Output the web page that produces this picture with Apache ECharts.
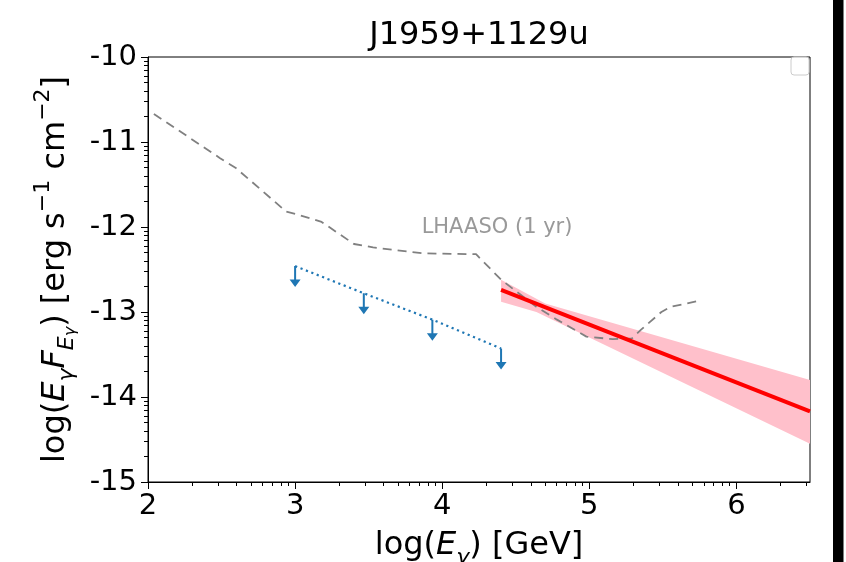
<!DOCTYPE html>
<html>
<head>
<meta charset="utf-8">
<script src="https://cdn.jsdelivr.net/npm/echarts@6/dist/echarts.min.js"></script>
<style>
html,body{margin:0;padding:0;background:#fff;}
#chart{width:846px;height:562px;}
</style>
</head>
<body>
<div id="chart"></div>
<script>
// ---- data ----
const titleText = 'J1959+1129u';
const xTicks = [2, 3, 4, 5, 6];
const yTicks = [-15, -14, -13, -12, -11, -10];

// LHAASO (1 yr) sensitivity curve
const lhaasoX = [2.04, 2.49, 2.60, 2.94, 3.01, 3.18, 3.40, 3.53, 3.87, 4.23, 4.40, 4.64, 4.78, 4.98, 5.16, 5.29, 5.35, 5.49, 5.55, 5.74];
const lhaasoY = [-10.67, -11.19, -11.31, -11.82, -11.85, -11.94, -12.20, -12.24, -12.31, -12.32, -12.62, -12.94, -13.09, -13.29, -13.32, -13.31, -13.21, -13.00, -12.94, -12.87];
const lhaasoLabel = 'LHAASO (1 yr)';
const lhaasoLabelPos = [3.86, -12.08];

// upper limits
const ulX = [3.0, 3.467, 3.933, 4.4];
const ulY = [-12.46, -12.78, -13.09, -13.43];

// power-law fit and its uncertainty band
const fitX = [4.4, 6.5];
const fitY = [-12.74, -14.17];
const bandUpperX = [4.4, 4.70, 6.5];
const bandUpperY = [-12.62, -12.90, -13.80];
const bandLowerX = [4.4, 4.64, 6.5];
const bandLowerY = [-12.88, -13.00, -14.55];

// log-style minor tick positions (k*10^n)
const minorK = [2, 3, 4, 5, 6, 7, 8, 9];
const xMinor = [];
for (let n = 2; n <= 6; n++) minorK.forEach(k => { const v = n + Math.log10(k); if (v < 6.5) xMinor.push(v); });
const yMinor = [];
for (let n = -15; n <= -11; n++) minorK.forEach(k => yMinor.push(n + Math.log10(k)));

// ---- build ----
const FONT = 'DejaVu Sans';
const zip = (a, b) => a.map((v, i) => [v, b[i]]);
const bandPoly = zip(bandUpperX, bandUpperY).concat(zip(bandLowerX, bandLowerY).reverse());

const chart = echarts.init(document.getElementById('chart'), null, {renderer: 'canvas'});

const LH = 46;
const baseRich = (fs) => ({
  n: {fontSize: fs, fontFamily: FONT, color: '#000', lineHeight: LH, verticalAlign: 'middle'},
  i: {fontSize: fs, fontFamily: FONT, fontStyle: 'italic', color: '#000', lineHeight: LH, verticalAlign: 'middle'},
  s: {fontSize: 22, fontFamily: FONT, fontStyle: 'italic', color: '#000', lineHeight: 22, verticalAlign: 'bottom'},
  ss: {fontSize: 16, fontFamily: FONT, fontStyle: 'italic', color: '#000', lineHeight: 12, verticalAlign: 'bottom'},
  sup: {fontSize: 22, fontFamily: FONT, color: '#000', lineHeight: 22, verticalAlign: 'top'}
});

const tickFs = 29;
const mainAxisCommon = {
  axisLine: {show: true, lineStyle: {color: '#000', width: 1}},
  axisTick: {show: true, inside: false, length: 7, lineStyle: {color: '#000', width: 1}},
  splitLine: {show: false},
  axisLabel: {show: true, color: '#000', fontSize: tickFs, fontFamily: FONT}
};
const minorAxisCommon = {
  axisLine: {show: false},
  axisLabel: {show: false},
  splitLine: {show: false}
};

const option = {
  animation: false,
  backgroundColor: '#fff',
  grid: {left: 148, top: 57, width: 662, height: 425, show: true, borderColor: '#000', borderWidth: 1,
    backgroundColor: 'transparent', containLabel: false, outerBoundsMode: 'none'},
  xAxis: [
    Object.assign({}, mainAxisCommon, {
      type: 'value', position: 'bottom', min: 2, max: 6.5, interval: 1,
      axisLabel: Object.assign({}, mainAxisCommon.axisLabel, {margin: 10, customValues: xTicks}),
      axisTick: Object.assign({}, mainAxisCommon.axisTick, {customValues: xTicks}),
      name: '{n|log(}{i|E}{s|γ}{n|) [GeV]}',
      nameLocation: 'middle', nameGap: 41,
      nameTextStyle: {fontFamily: FONT, fontSize: 32, color: '#000', rich: baseRich(32)}
    }),
    Object.assign({}, minorAxisCommon, {
      type: 'value', position: 'bottom', min: 2, max: 6.5, gridIndex: 0,
      axisTick: {show: true, inside: false, length: 4, lineStyle: {color: '#000', width: 1}, customValues: xMinor}
    })
  ],
  yAxis: [
    Object.assign({}, mainAxisCommon, {
      type: 'value', position: 'left', min: -15, max: -10, interval: 1,
      axisLabel: Object.assign({}, mainAxisCommon.axisLabel, {margin: 11, customValues: yTicks}),
      axisTick: Object.assign({}, mainAxisCommon.axisTick, {customValues: yTicks}),
      name: '{n|log(}{i|E}{s|γ}{i|F}{s|E}{ss|γ}{n|) [erg s}{sup|−1}{n| cm}{sup|−2}{n|]}',
      nameLocation: 'middle', nameRotate: 90, nameGap: 68,
      nameTextStyle: {fontFamily: FONT, fontSize: 32, color: '#000', rich: baseRich(32)}
    }),
    Object.assign({}, minorAxisCommon, {
      type: 'value', position: 'left', min: -15, max: -10, gridIndex: 0,
      axisTick: {show: true, inside: false, length: 4, lineStyle: {color: '#000', width: 1}, customValues: yMinor}
    })
  ],
  graphic: [
    {type: 'text', x: 479, y: 36, z: 10,
      style: {text: titleText, fontFamily: FONT, fontSize: 32, fill: '#000', textAlign: 'center', textVerticalAlign: 'middle'}},
    {type: 'rect', shape: {x: 791, y: 57, width: 18, height: 18, r: 3}, z: 10,
      style: {fill: 'rgba(255,255,255,0.8)', stroke: '#cccccc', lineWidth: 1}},
    {type: 'rect', shape: {x: 833, y: 0, width: 10.5, height: 562}, z: 10,
      style: {fill: '#000'}}
  ],
  series: [
    {
      type: 'custom', name: 'band', xAxisIndex: 0, yAxisIndex: 0, z: 1,
      data: [0],
      renderItem: function (params, api) {
        const pts = bandPoly.map(p => api.coord(p));
        return {type: 'polygon', shape: {points: pts}, style: {fill: '#ffc0cb', stroke: null}};
      },
      silent: true
    },
    {
      type: 'line', name: 'LHAASO', xAxisIndex: 0, yAxisIndex: 0, z: 2,
      data: zip(lhaasoX, lhaasoY), showSymbol: false, symbol: 'none',
      lineStyle: {color: '#808080', width: 1.8, type: [9, 6]}
    },
    {
      type: 'line', name: 'fit', xAxisIndex: 0, yAxisIndex: 0, z: 4,
      data: zip(fitX, fitY), showSymbol: false, symbol: 'none',
      lineStyle: {color: '#ff0000', width: 4}
    },
    {
      type: 'line', name: 'ULline', xAxisIndex: 0, yAxisIndex: 0, z: 3,
      data: zip(ulX, ulY), showSymbol: false, symbol: 'none',
      lineStyle: {color: '#1f77b4', width: 2.2, type: [2.2, 3.6]}
    },
    {
      type: 'scatter', name: 'UL', xAxisIndex: 0, yAxisIndex: 0, z: 3,
      data: zip(ulX, ulY),
      symbol: 'path://M4.5,0L6.5,0L6.5,13.5L11,13.5L5.5,21L0,13.5L4.5,13.5Z',
      symbolSize: [11, 21], symbolOffset: [0, '50%'], symbolKeepAspect: false,
      itemStyle: {color: '#1f77b4', opacity: 1}
    },
    {
      type: 'scatter', name: 'label', xAxisIndex: 0, yAxisIndex: 0, z: 5,
      data: [lhaasoLabelPos], symbolSize: 0, silent: true,
      label: {show: true, formatter: lhaasoLabel, position: [0, 0], align: 'left', verticalAlign: 'bottom',
        offset: [0, 4], fontFamily: FONT, fontSize: 21, lineHeight: 21, color: '#808080'}
    }
  ]
};
chart.setOption(option);
</script>
</body>
</html>
